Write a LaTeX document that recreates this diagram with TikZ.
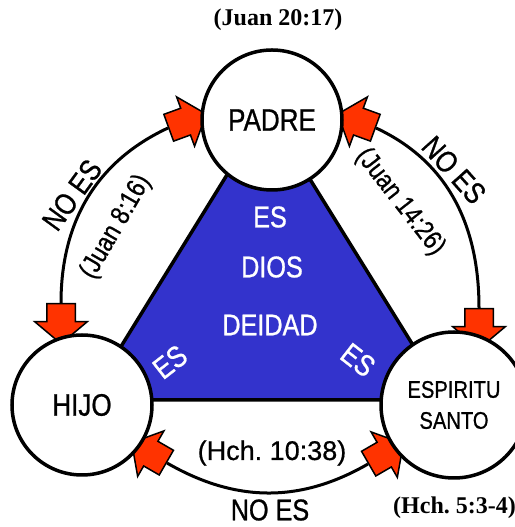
\documentclass[tikz,border=0pt]{standalone}
\usepackage{fontspec}
\setmainfont{Liberation Sans}
\newfontfamily\cond{Liberation Sans}[FakeStretch=0.84, FakeBold=0.8]
\newfontfamily\plainsans{Liberation Sans}[FakeBold=0.6]
\newfontfamily\serifb{Liberation Serif}
\usetikzlibrary{shapes.arrows}
\definecolor{trblue}{RGB}{51,51,204}
\definecolor{arred}{RGB}{255,51,0}
\tikzset{
  persona/.style={circle, draw, line width=3.5pt, fill=white, minimum size=140pt, inner sep=0pt, align=center, font=\cond\fontsize{31}{33}\selectfont},
  blockarrow/.style={single arrow, draw, line width=1.5pt, fill=arred, minimum height=40pt, inner xsep=0pt, inner ysep=13.5pt, single arrow head extend=12pt, single arrow tip angle=100, anchor=tail},
  link/.style={line width=3pt},
  inner/.style={text=white, inner sep=0pt, font=\cond\fontsize{30}{32}\selectfont},
  lbl/.style={inner sep=0pt, font=\cond\fontsize{27}{29}\selectfont},
  noes/.style={inner sep=0pt, font=\cond\fontsize{30}{32}\selectfont},
  ref/.style={inner sep=0pt, font=\serifb\bfseries\fontsize{24}{26}\selectfont}
}
\begin{document}
\begin{tikzpicture}[x=1pt,y=1pt]
\useasboundingbox (0,0) rectangle (514,527);
% triangle
\path[fill=trblue, draw=black, line width=3.5pt, line join=miter] (267,417) -- (88,127) -- (447,127) -- cycle;
% arrows
\node[blockarrow, rotate=20] (a1) at (168,399) {};
\node[blockarrow, rotate=160] (a2) at (376,399) {};
\node[blockarrow, rotate=-90] (a3) at (61,224) {};
\node[blockarrow, rotate=-90] (a4) at (479,219) {};
\node[blockarrow, rotate=150] (a5) at (167,64) {};
\node[blockarrow, rotate=30] (a6) at (368,63) {};
% arcs
\draw[link] (a1.tail) to[out=205, in=90] (a3.tail);
\draw[link] (a2.tail) to[out=-25, in=90] (a4.tail);
\draw[link] (a5.tail) to[out=-30, in=210] (a6.tail);
% circles
\node[persona] (padre) at (272,407) {PADRE};
\node[persona] (hijo) at (82,122) {HIJO};
\node[persona, minimum size=146pt, font=\cond\fontsize{24}{31}\selectfont] (espiritu) at (454,122) {ESPIRITU\\SANTO};
% triangle texts
\node[inner] (es1) at (270,310) {ES};
\node[inner] (dios) at (272,260) {DIOS};
\node[inner] (deidad) at (270,202) {DEIDAD};
\node[inner, rotate=38] (es2) at (170,165) {ES};
\node[inner, rotate=-38] (es3) at (358,167) {ES};
% labels
\node[ref] (j2017) at (278,507) {(Juan 20:17)};
\node[ref, anchor=west] (h534) at (393,19) {(Hch.\ 5:3-4)};
\node[noes, rotate=54] (noesl) at (72,332) {NO ES};
\node[lbl, rotate=60] (j816) at (116,300) {(Juan 8:16)};
\node[noes, rotate=-48] (noesr) at (454,357) {NO ES};
\node[lbl, rotate=-52] (j1426) at (400,325) {(Juan 14:26)};
\node[lbl, font=\plainsans\fontsize{27}{29}\selectfont] (h1038) at (272,74) {(Hch.\ 10:38)};
\node[noes] (noesb) at (270,17) {NO ES};
\end{tikzpicture}
\end{document}
